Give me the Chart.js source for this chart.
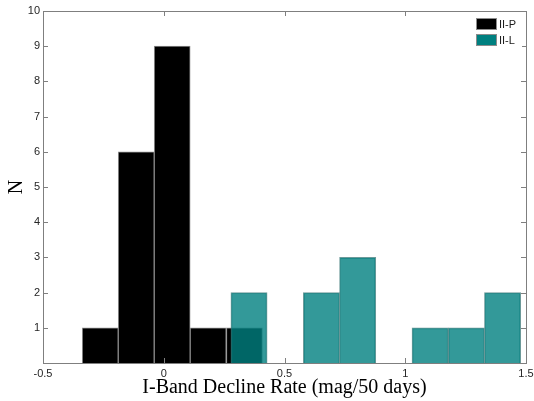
<!DOCTYPE html>
<html>
<head>
<meta charset="utf-8">
<script src="https://cdn.jsdelivr.net/npm/chart.js@4/dist/chart.umd.min.js"></script>
<style>
  body { margin: 0; background: #fff; }
  #wrap { width: 534px; height: 401px; }
</style>
</head>
<body>
<div id="wrap"><canvas id="declineChart" width="534" height="401"></canvas></div>
<script>
// Histogram bins (centres) and counts per SN type
const binsP = [-0.263, -0.114, 0.035, 0.184, 0.334]
const countsP = [1, 6, 9, 1, 1]
const binsL = [0.353, 0.653, 0.803, 1.103, 1.253, 1.403]
const countsL = [2, 2, 3, 1, 1, 2]

const xTicks = [-0.5, 0, 0.5, 1, 1.5]
const yTicks = [1, 2, 3, 4, 5, 6, 7, 8, 9, 10]

const axisGray = "#7f7f7f"
const labelFont = { family: "Liberation Sans", size: 11 }
const titleFont = { family: "Liberation Serif", size: 20 }

// Box around the plot with inward tick marks on all four sides
const frameTicks = {
  id: "frameTicks",
  afterDatasetsDraw(chart) {
    const { ctx, chartArea: a, scales } = chart
    const len = 5
    ctx.save()
    ctx.strokeStyle = axisGray
    ctx.lineWidth = 1
    ctx.beginPath()
    xTicks.forEach((v) => {
      const px = Math.round(scales.x.getPixelForValue(v)) + 0.5
      ctx.moveTo(px, a.bottom); ctx.lineTo(px, a.bottom - len)
      ctx.moveTo(px, a.top); ctx.lineTo(px, a.top + len)
    })
    yTicks.forEach((v) => {
      const py = Math.round(scales.y.getPixelForValue(v)) + 0.5
      ctx.moveTo(a.left, py); ctx.lineTo(a.left + len, py)
      ctx.moveTo(a.right, py); ctx.lineTo(a.right - len, py)
    })
    ctx.stroke()
    ctx.strokeRect(Math.round(a.left) + 0.5, Math.round(a.top) + 0.5,
      Math.round(a.right - a.left), Math.round(a.bottom - a.top))
    ctx.restore()
  },
}

// Legend boxes in the top-right corner of the plot
const cornerLegend = {
  id: "cornerLegend",
  afterDraw(chart) {
    const { ctx, chartArea: a } = chart
    const boxW = 21, boxH = 12, gap = 4
    const x0 = a.right - 50
    let y = a.top + 7
    ctx.save()
    ctx.fillStyle = "#fff"
    ctx.fillRect(x0 - 4, a.top + 3, 50, 2 * boxH + gap + 10)
    ctx.font = "11px 'Liberation Sans'"
    ctx.textBaseline = "middle"
    chart.data.datasets.forEach((ds) => {
      ctx.fillStyle = ds.legendColor
      ctx.fillRect(x0, y, boxW, boxH)
      ctx.strokeStyle = "#8c8c8c"
      ctx.strokeRect(x0 + 0.5, y + 0.5, boxW - 1, boxH - 1)
      ctx.fillStyle = "#1a1a1a"
      ctx.fillText(ds.label, x0 + boxW + 2, y + boxH / 2 + 0.5)
      y += boxH + gap
    })
    ctx.restore()
  },
}

const ctx = document.getElementById("declineChart").getContext("2d")

const declineChart = new Chart(ctx, {
  type: "bar",
  data: {
    datasets: [
      {
        label: "II-P",
        data: binsP.map((x, i) => ({ x, y: countsP[i] })),
        xAxisID: "x",
        backgroundColor: "#000",
        legendColor: "#000",
        borderColor: "#8c8c8c",
        borderWidth: { top: 1, left: 1, right: 1, bottom: 0 },
        grouped: false,
        barPercentage: 1,
        categoryPercentage: 1,
        order: 1,
      },
      {
        label: "II-L",
        data: binsL.map((x, i) => ({ x, y: countsL[i] })),
        xAxisID: "x2",
        backgroundColor: "rgba(0, 128, 128, 0.8)",
        legendColor: "#008080",
        borderColor: "rgba(60, 120, 120, 0.75)",
        borderWidth: { top: 1, left: 1, right: 1, bottom: 0 },
        grouped: false,
        barPercentage: 1,
        categoryPercentage: 1,
        order: 0,
      },
    ],
  },
  options: {
    responsive: false,
    animation: false,
    layout: { padding: { top: 11, right: 8, left: 0, bottom: 0 } },
    plugins: {
      legend: { display: false },
      tooltip: { enabled: false },
    },
    scales: {
      x: {
        type: "linear",
        min: -0.5,
        max: 1.5,
        offset: false,
        afterBuildTicks: (scale) => {
          scale.ticks = xTicks.map((value) => ({ value }))
        },
        afterFit: (scale) => {
          scale.height = 38
          scale.paddingLeft = 0
          scale.paddingRight = 0
        },
        grid: { display: false, drawTicks: false },
        border: { display: false },
        ticks: {
          font: labelFont,
          color: "#262626",
          padding: 4,
          maxRotation: 0,
          callback: (v) => String(v),
        },
        title: {
          display: true,
          text: "I-Band Decline Rate (mag/50 days)",
          font: titleFont,
          color: "#000",
          padding: { top: 0, bottom: 1 },
        },
      },
      x2: {
        type: "linear",
        min: -0.5,
        max: 1.5,
        offset: false,
        display: false,
        afterBuildTicks: (scale) => {
          scale.ticks = xTicks.map((value) => ({ value }))
        },
      },
      y: {
        min: 0,
        max: 10,
        afterBuildTicks: (scale) => {
          scale.ticks = yTicks.map((value) => ({ value }))
        },
        afterFit: (scale) => {
          scale.width = 43
          scale.paddingTop = 0
          scale.paddingBottom = 0
        },
        grid: { display: false, drawTicks: false },
        border: { display: false },
        ticks: {
          font: labelFont,
          color: "#262626",
          padding: 3,
        },
        title: {
          display: true,
          text: "N",
          font: titleFont,
          color: "#000",
          padding: { top: 5, bottom: 0 },
        },
      },
    },
  },
  plugins: [frameTicks, cornerLegend],
})
</script>
</body>
</html>
